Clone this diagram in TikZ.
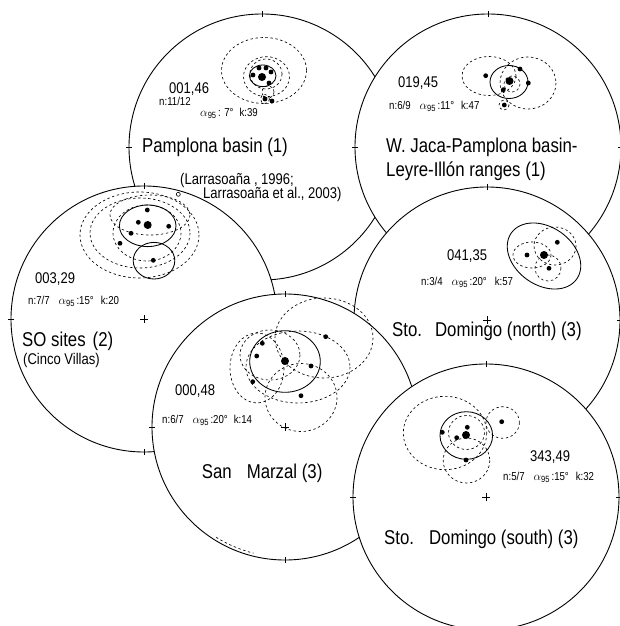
\documentclass[tikz,border=0pt]{standalone}
\usepackage{fontspec}
\setmainfont{Liberation Sans}[FakeStretch=0.84]
\newcommand{\afive}{$\alpha$\raisebox{-2.2pt}{\fontsize{9}{9}\selectfont 95}}

\begin{document}
\begin{tikzpicture}[x=1pt, y=-1pt,
  rim/.style={fill=white, line width=0.9pt},
  afn/.style={line width=0.85pt},
  site/.style={dash pattern=on 2.4pt off 2.6pt, line width=0.65pt},
  title/.style={anchor=base west, inner sep=0pt, font=\fontsize{20}{22}\selectfont},
  decl/.style={anchor=base west, inner sep=0pt, font=\fontsize{15.5}{17}\selectfont},
  stat/.style={anchor=base west, inner sep=0pt, font=\fontsize{11.5}{12}\selectfont}]

\useasboundingbox (0,0) rectangle (619,626);

% Pamplona basin
\begin{scope}[shift={(262,147)}]
  \filldraw[rim] (0,0) circle (133);
  \foreach \a in {0,90,180,270}
    \draw[line width=0.9pt] (\a:130) -- (\a:136);
  \draw[site] (2,-76.5) ellipse (42.5 and 33);
  \draw[site] (4.5,-70.3) ellipse (23 and 20);
  \draw[site] (4,-73) ellipse (16 and 15);
  \draw[site] (6,-55) circle (6);
  \draw[site] (3,-48) circle (4.5);
  \draw[afn] (0.7,-71.2) ellipse (13.3 and 10.8);
  \foreach \p in {(-3,-79),(4,-79),(-9,-72),(9,-75),(7,-64),(3,-48),(10,-46)}
    \fill \p circle (2.4);
  \fill (0,-70) circle (4);
  \node[decl] (d1) at (-93,-53.7) {001,46};
  \node[stat] (n1) at (-103,-42) {n:11/12};
  \node[stat] (s1) at (-62,-30.3) {\afive\,: 7°\hskip6pt k:39};
  \node[title] (t1) at (-120,5.5) {Pamplona basin (1)};
  \node[decl] (r1) at (-82,37.5) {(Larrasoaña , 1996;};
  \node[decl] (r2) at (-59,51.5) {Larrasoaña et al., 2003)};
\end{scope}

% W. Jaca
\begin{scope}[shift={(488,147)}]
  \filldraw[rim] (0,0) circle (133);
  \foreach \a in {0,90,180,270}
    \draw[line width=0.9pt] (\a:130) -- (\a:136);
  \draw[site] (1,-71) ellipse (27 and 19.5);
  \draw[site] (40,-64) ellipse (28 and 26);
  \draw[site] (24,-63) circle (8);
  \draw[site] (16,-42) circle (5);
  \draw[afn] (21,-65) ellipse (19 and 16.5);
  \foreach \p in {(-2.3,-71.3),(32,-78),(40.3,-64),(15.3,-57.3),(16.3,-42)}
    \fill \p circle (2.4);
  \fill (21.5,-66) circle (4);
  \node[decl] (d2) at (-90,-59) {019,45};
  \node[stat] (s2) at (-99,-37.7) {n:6/9\hskip9pt\afive\,:11°\hskip7pt k:47};
  \node[title] (t2) at (-102,5.7) {W. Jaca-Pamplona basin-};
  \node[title] (t2b) at (-102,29.7) {Leyre-Illón ranges (1)};
\end{scope}

% SO sites
\begin{scope}[shift={(144,319)}]
  \filldraw[rim] (0,0) circle (133);
  \foreach \a in {0,90,180,270}
    \draw[line width=0.9pt] (\a:130) -- (\a:136);
  \draw (-4,0) -- (4,0) (0,-4) -- (0,4);
  \draw[site] (-4.5,-84) ellipse (59.5 and 43);
  \draw[site] (-4,-86) ellipse (50 and 35);
  \draw[site] (3,-86) ellipse (34 and 28);
  \draw[site] (6,-104) ellipse (40 and 20);
  \draw[afn] (3.7,-93.2) ellipse (28.3 and 20.8);
  \draw[afn] (10,-58.3) ellipse (20.8 and 18.3);
  \draw[line width=0.6pt] (34.3,-124.7) circle (2);
  \foreach \p in {(3.3,-109),(-5.7,-96.7),(-13,-85.7),(24.7,-92.7),(-24,-75.7),(9.3,-58.7)}
    \fill \p circle (2.4);
  \fill (3.7,-94) circle (4);
  \node[decl] (d3) at (-109,-35.7) {003,29};
  \node[stat] (s3) at (-116,-14.7) {n:7/7\hskip9pt\afive\,:15°\hskip7pt k:20};
  \node[title] (t3) at (-122,27.7) {SO sites\hskip7pt (2)};
  \node[decl] (c3) at (-121,45.5) {(Cinco Villas)};
\end{scope}

% Sto. Domingo north
\begin{scope}[shift={(487,320)}]
  \filldraw[rim] (0,0) circle (133);
  \foreach \a in {0,90,180,270}
    \draw[line width=0.9pt] (\a:130) -- (\a:136);
  \draw (-4,0) -- (4,0) (0,-4) -- (0,4);
  \draw[site] (68,-74) ellipse (21 and 19);
  \draw[site] (45,-65) ellipse (19 and 13);
  \draw[site] (61,-52) circle (13);
  \draw[afn, rotate around={-35:(57,-64)}] (57,-64) ellipse (40 and 29);
  \foreach \p in {(70.3,-77.7),(40,-65),(62,-51.7)}
    \fill \p circle (2.4);
  \fill (57,-65) circle (4);
  \node[decl] (d4) at (-40,-60) {041,35};
  \node[stat] (s4) at (-66,-35) {n:3/4\hskip9pt\afive\,:20°\hskip8pt k:57};
  \node[title] (t4) at (-95,16) {Sto.\hskip13pt Domingo (north) (3)};
\end{scope}

% San Marzal
\begin{scope}[shift={(285,427)}]
  \filldraw[rim] (0,0) circle (133);
  \foreach \a in {0,90,180,270}
    \draw[line width=0.9pt] (\a:130) -- (\a:136);
  \draw (-4,0) -- (4,0) (0,-4) -- (0,4);
  \draw[site] (39,-89) ellipse (49 and 40);
  \draw[site] (16,-29.5) ellipse (36 and 34);
  \draw[site] (-28,-59) ellipse (27 and 35);
  \draw[site] (13,-60) ellipse (52 and 36);
  \draw[site] (-15,-72) ellipse (30 and 25);
  \draw[site] (122:130) arc (122:104:130);
  \draw[afn] (0,-65.5) ellipse (35.3 and 30.8);
  \foreach \p in {(-22.7,-83.7),(-28.3,-71),(40.7,-90.3),(26,-61),(-32.3,-45.3),(16,-31.3)}
    \fill \p circle (2.4);
  \fill (0,-66) circle (4);
  \node[decl] (d5) at (-110,-32) {000,48};
  \node[stat] (s5) at (-123,-3.7) {n:6/7\hskip9pt\afive\,:20°\hskip6pt k:14};
  \node[title] (t5) at (-83.3,51.3) {San\hskip15pt Marzal (3)};
\end{scope}

% Sto. Domingo south
\begin{scope}[shift={(486,497)}]
  \filldraw[rim] (0,0) circle (133);
  \foreach \a in {0,90,180,270}
    \draw[line width=0.9pt] (\a:130) -- (\a:136);
  \draw (-4,0) -- (4,0) (0,-4) -- (0,4);
  \draw[site] (-41,-64) ellipse (41.7 and 36.7);
  \draw[site] (16.7,-74.5) ellipse (16.7 and 15.8);
  \draw[site] (-19.5,-36.5) ellipse (23.3 and 22.5);
  \draw[site] (-19.5,-64.5) ellipse (18 and 17);
  \draw[afn] (-19.7,-61.5) ellipse (26.3 and 23.8);
  \foreach \p in {(-18.7,-69.7),(-29.3,-59.3),(-43.7,-64.7),(-20,-37),(15.7,-75.3)}
    \fill \p circle (2.4);
  \fill (-20,-62) circle (4);
  \node[decl] (d6) at (44,-35.3) {343,49};
  \node[stat] (s6) at (17,-17) {n:5/7\hskip9pt\afive\,:15°\hskip7pt k:32};
  \node[title] (t6) at (-102,47.3) {Sto.\hskip15pt Domingo (south) (3)};
\end{scope}
\end{tikzpicture}
\end{document}
